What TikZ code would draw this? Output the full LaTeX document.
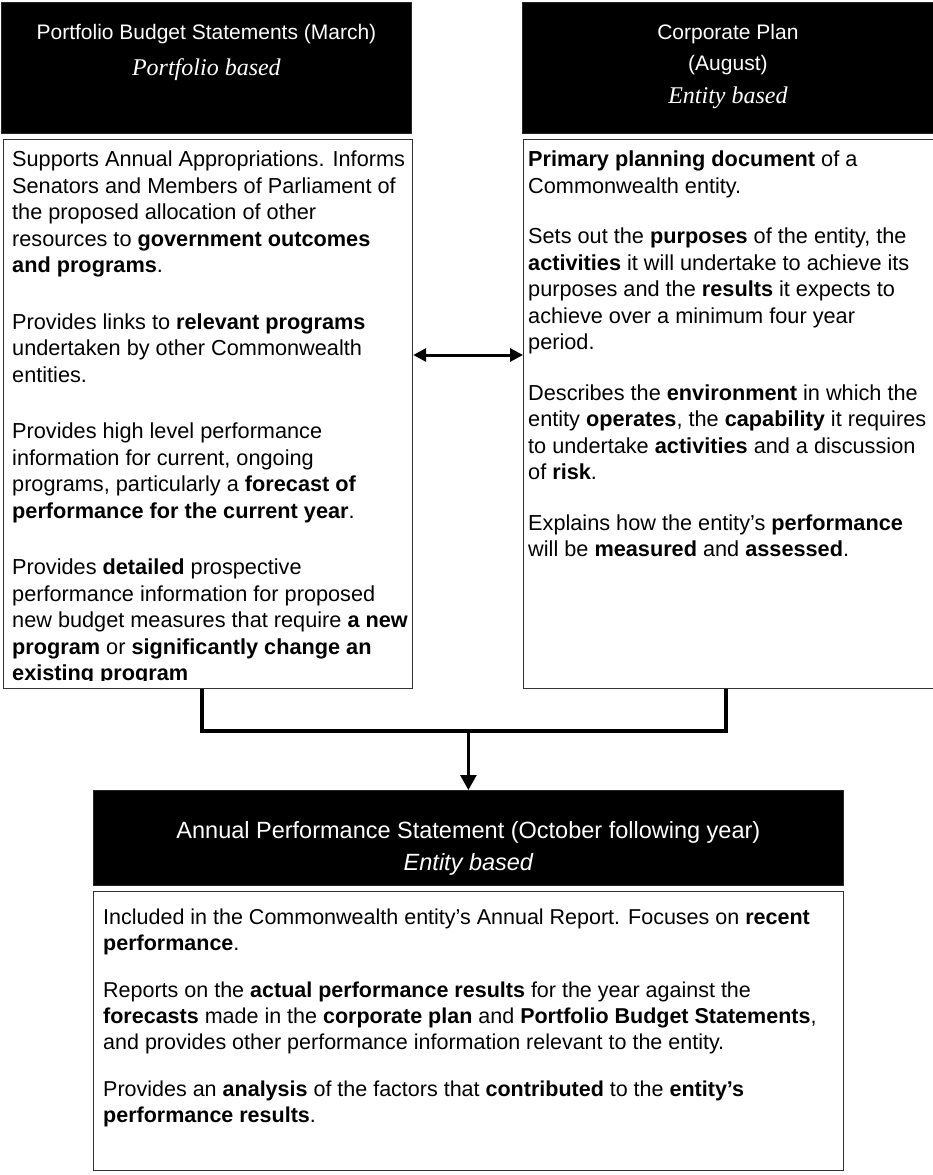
\documentclass[tikz,border=0pt]{standalone}
\usepackage{fontspec}
\setmainfont{Liberation Sans}
\newfontfamily\hdserif{Liberation Serif}
\usetikzlibrary{arrows.meta}
\newcommand{\pg}{30pt}
\newcommand{\pgr}{24pt}
\newcommand{\pgb}{21pt}
\tikzset{
  hdbox/.style={draw=black!85, line width=0.8pt, fill=black, inner sep=0pt, anchor=north west},
  bodybox/.style={draw=black!80, line width=1.2pt, fill=white, inner sep=0pt, anchor=north west},
  hdtext/.style={text=white, align=center, inner sep=0pt, font=\fontsize{21}{31}\selectfont},
  bodytext/.style={align=left, inner sep=0pt, anchor=north west, font=\fontsize{21.7}{26.5}\selectfont},
  bottomtext/.style={align=left, inner sep=0pt, anchor=north west, font=\fontsize{21.5}{26}\selectfont},
  conn/.style={line width=3.6pt},
  arr/.style={line width=2.7pt, -{Triangle[length=15pt,width=16pt]}},
  dbl/.style={line width=3pt, {Triangle[length=13pt,width=13pt]}-{Triangle[length=13pt,width=13pt]}}
}
\begin{document}
\begin{tikzpicture}[x=1pt,y=-1pt]
\useasboundingbox (0,0) rectangle (932,1175);
% headers
\node[hdbox, minimum width=410pt, minimum height=131pt] (lh) at (1,2) {};
\node[hdbox, minimum width=411pt, minimum height=131pt] (rh) at (522,2) {};
\node[hdtext, anchor=north] (lht) at ([yshift=-22pt]lh.north) {Portfolio Budget Statements (March)\\[5pt]{\hdserif\itshape\fontsize{24}{31}\selectfont Portfolio based}};
\node[hdtext, anchor=north] (rht) at ([yshift=-22pt]rh.north) {Corporate Plan\\(August)\\[2pt]{\hdserif\itshape\fontsize{24}{31}\selectfont Entity based}};
% body boxes
\node[bodybox, minimum width=409pt, minimum height=549pt] (lb) at (3,139) {};
\node[bodybox, minimum width=410pt, minimum height=549pt] (rb) at (523,139) {};
\begin{scope}
\clip (lb.north west) rectangle ([yshift=9pt]lb.south east);
\node[bodytext] (lbt) at (12,151) {Supports Annual Appropriations. Informs\\
Senators and Members of Parliament of\\
the proposed allocation of other\\
resources to \textbf{government outcomes}\\
\textbf{and programs}.\\[\pg]
Provides links to \textbf{relevant programs}\\
undertaken by other Commonwealth\\
entities.\\[\pg]
Provides high level performance\\
information for current, ongoing\\
programs, particularly a \textbf{forecast of}\\
\textbf{performance for the current year}.\\[\pg]
Provides \textbf{detailed} prospective\\
performance information for proposed\\
new budget measures that require \textbf{a new}\\
\textbf{program} or \textbf{significantly change an}\\
\textbf{existing program}};
\end{scope}
\node[bodytext] (rbt) at (528,151) {\textbf{Primary planning document} of a\\
Commonwealth entity.\\[\pgr]
Sets out the \textbf{purposes} of the entity, the\\
\textbf{activities} it will undertake to achieve its\\
purposes and the \textbf{results} it expects to\\
achieve over a minimum four year\\
period.\\[\pgr]
Describes the \textbf{environment} in which the\\
entity \textbf{operates}, the \textbf{capability} it requires\\
to undertake \textbf{activities} and a discussion\\
of \textbf{risk}.\\[\pgr]
Explains how the entity's \textbf{performance}\\
will be \textbf{measured} and \textbf{assessed}.};
% bottom
\node[hdbox, minimum width=750pt, minimum height=95pt] (ah) at (93,790) {};
\node[hdtext, anchor=north, font=\fontsize{23.5}{32}\selectfont] (aht) at ([yshift=-31pt]ah.north) {Annual Performance Statement (October following year)\\{\itshape Entity based}};
\node[bodybox, minimum width=750pt, minimum height=279pt] (ab) at (93,891) {};
\node[bottomtext] (abt) at (103,909) {Included in the Commonwealth entity's Annual Report. Focuses on \textbf{recent}\\
\textbf{performance}.\\[\pgb]
Reports on the \textbf{actual performance results} for the year against the\\
\textbf{forecasts} made in the \textbf{corporate plan} and \textbf{Portfolio Budget Statements},\\
and provides other performance information relevant to the entity.\\[\pgb]
Provides an \textbf{analysis} of the factors that \textbf{contributed} to the \textbf{entity's}\\
\textbf{performance results}.};
% connectors
\coordinate (da) at (0,355);
\coordinate (cl) at (202,0);
\coordinate (cr) at (726,0);
\coordinate (hm) at (0,731);
\draw[dbl] (lb.east |- da) -- (rb.west |- da);
\draw[conn] (lb.south -| cl) -- (cl |- hm) -- (cr |- hm) -- (rb.south -| cr);
\draw[arr] (ah.north |- hm) -- (ah.north);
\end{tikzpicture}
\end{document}
